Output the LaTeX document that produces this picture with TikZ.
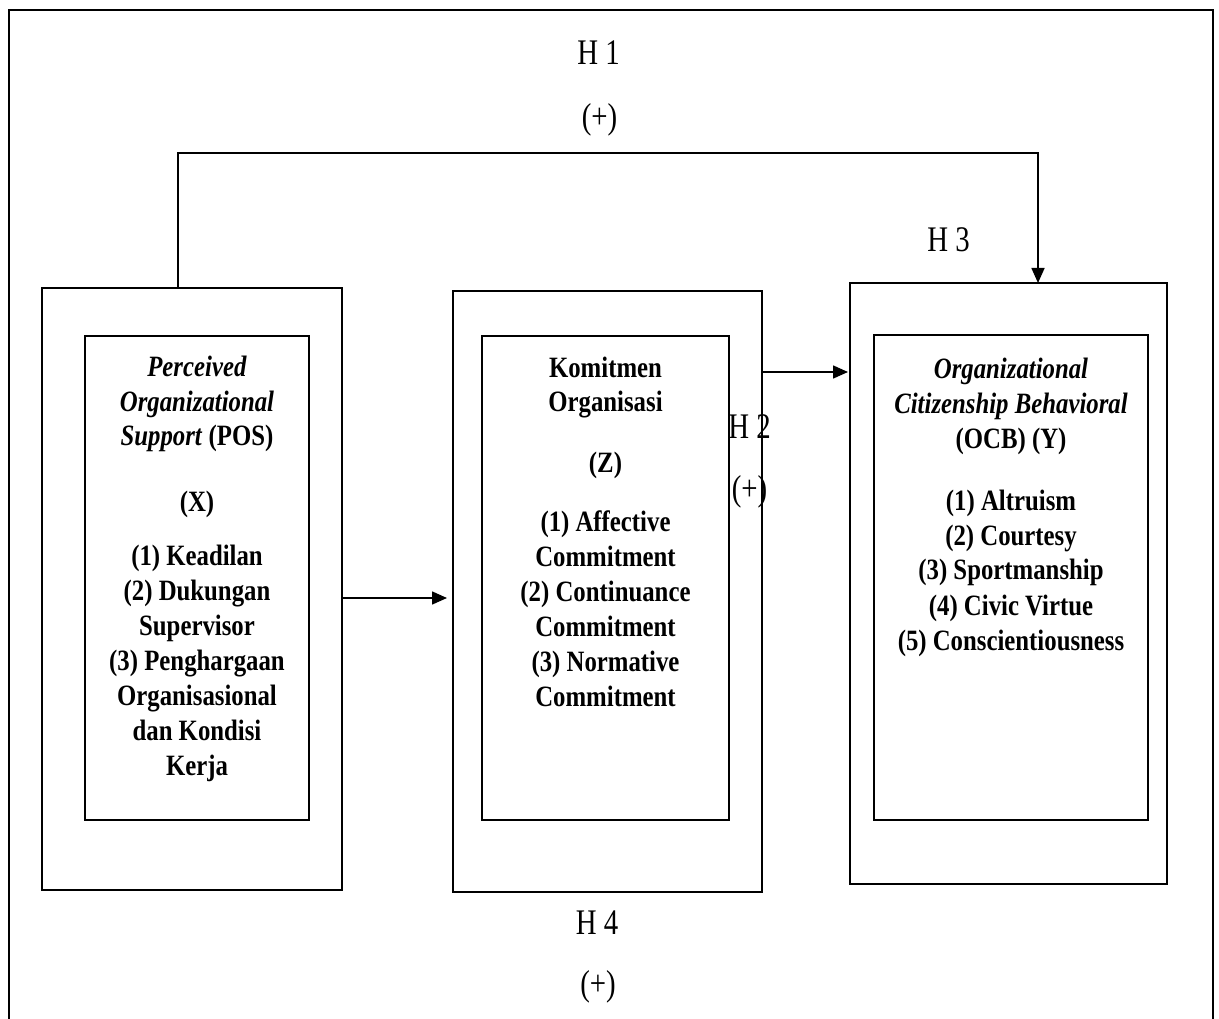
\documentclass[tikz,border=0pt]{standalone}
\usepackage{fontspec}
\setmainfont{Liberation Serif}
\newfontfamily\boxfont[FakeStretch=0.84]{Liberation Serif}
\newfontfamily\labfont[FakeStretch=0.8]{Liberation Serif}
\usetikzlibrary{arrows.meta}
\begin{document}
\begin{tikzpicture}[x=1pt,y=-1pt,
 frame/.style={line width=2.2pt},
 outerbox/.style={draw, line width=1.8pt, inner sep=0pt, outer sep=0pt},
 innerbox/.style={draw, line width=1.6pt, inner sep=0pt, outer sep=0pt},
 conn/.style={line width=1.6pt},
 arr/.style={conn, -{Triangle[length=15pt,width=13pt]}},
 boxtext/.style={anchor=base, inner sep=0pt, font=\boxfont\bfseries\fontsize{29.5}{35}\selectfont},
 lab/.style={anchor=base, inner sep=0pt, font=\labfont\fontsize{36}{40}\selectfont}]

\useasboundingbox (0,0) rectangle (1219,1019);
\fill[white] (0,0) rectangle (1219,1019);
\draw[frame] (9,1030) -- (9,10) -- (1213,10) -- (1213,1030);

% outer boxes
\node[outerbox, minimum width=300pt, minimum height=602pt] (b1) at (192,589) {};
\node[outerbox, minimum width=309pt, minimum height=601pt] (b2) at (607.5,591.5) {};
\node[outerbox, minimum width=317pt, minimum height=601pt] (b3) at (1008.5,583.5) {};
% inner boxes
\node[innerbox, minimum width=224pt, minimum height=484pt] (i1) at (197,578) {};
\node[innerbox, minimum width=247pt, minimum height=484pt] (i2) at (605.5,578) {};
\node[innerbox, minimum width=274pt, minimum height=485pt] (i3) at (1011,577.5) {};

% texts
\node[boxtext] (t1) at (197,376) {\begin{tabular}[t]{@{}c@{}}\textit{Perceived}\\ \textit{Organizational}\\ \textit{Support} (POS)\\[30pt] (X)\\[20pt] (1) Keadilan\\ (2) Dukungan\\ Supervisor\\ (3) Penghargaan\\ Organisasional\\ dan Kondisi\\ Kerja\end{tabular}};
\node[boxtext] (t2) at (605.5,377) {\begin{tabular}[t]{@{}c@{}}Komitmen\\ Organisasi\\[26pt] (Z)\\[24pt] (1) Affective\\ Commitment\\ (2) Continuance\\ Commitment\\ (3) Normative\\ Commitment\end{tabular}};
\node[boxtext] (t3) at (1011,378) {\begin{tabular}[t]{@{}c@{}}\textit{Organizational}\\ \textit{Citizenship Behavioral}\\ (OCB) (Y)\\[27pt] (1) Altruism\\ (2) Courtesy\\ (3) Sportmanship\\ (4) Civic Virtue\\ (5) Conscientiousness\end{tabular}};

% labels
\node[lab] (h1) at (598.5,65) {H 1};
\node[lab] (p1) at (599.5,128.5) {(+)};
\node[lab] (h3) at (948.5,252) {H 3};
\node[lab] (h2) at (749.5,438) {H 2};
\node[lab] (p2) at (749.5,500.5) {(+)};
\node[lab] (h4) at (597,934) {H 4};
\node[lab] (p4) at (598,995.5) {(+)};

% connectors
\draw[arr] ([xshift=136pt]b1.north west) -- ++(0,-135) -| ([xshift=188pt]b3.north west);
\coordinate (a1) at ([yshift=-9pt]b1.east);
\draw[arr, shorten >=6pt] (a1) -- (a1 -| b2.west);
\coordinate (a2) at ([yshift=219.5pt]b2.east);
\draw[arr, shorten >=2pt] (a2) -- (a2 -| b3.west);
\end{tikzpicture}
\end{document}
